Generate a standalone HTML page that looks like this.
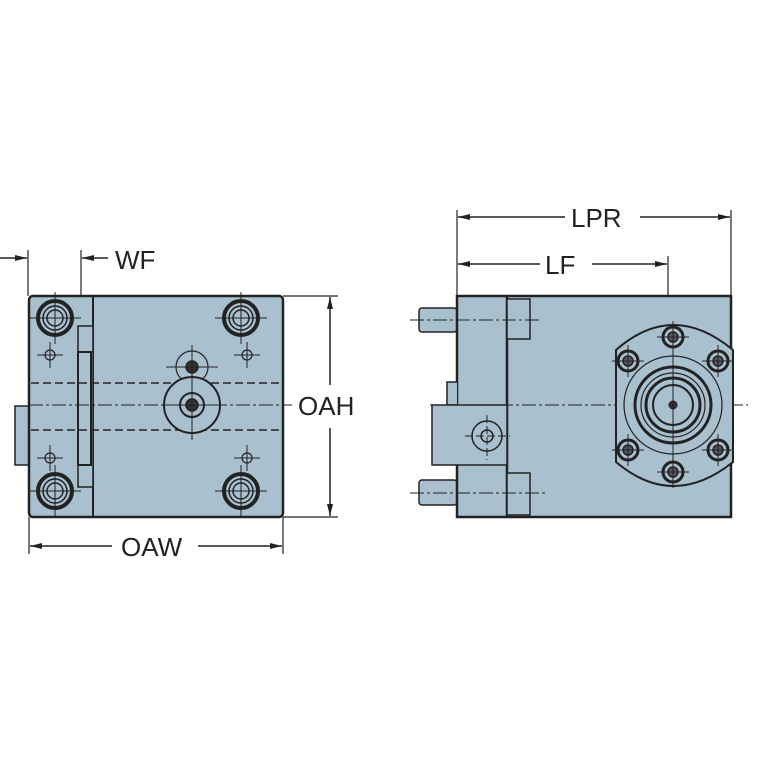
<!DOCTYPE html>
<html><head><style>html,body{margin:0;padding:0;background:#fff}svg{display:block}text{font-family:"Liberation Sans",Arial,sans-serif}</style></head><body>
<svg width="767" height="767" viewBox="0 0 767 767" xmlns="http://www.w3.org/2000/svg">
<defs>
<marker id="a" markerWidth="12" markerHeight="8" refX="12" refY="4" orient="auto" markerUnits="userSpaceOnUse"><path d="M0,1 L12,4 L0,7 Z" fill="#222"/></marker>
<g id="bolt"><circle r="17" fill="#a9c0cf" stroke="#222" stroke-width="4"/><circle r="12" fill="none" stroke="#222" stroke-width="1.5"/><circle r="8" fill="none" stroke="#222" stroke-width="1.5"/><path d="M-26,0H26M0,-26V26" stroke="#222" stroke-width="1"/></g>
<g id="sh"><circle r="5" fill="none" stroke="#222" stroke-width="1.2"/><path d="M-13,0H13M0,-13V13" stroke="#222" stroke-width="1"/></g>
<g id="fb"><circle r="10" fill="#a9c0cf" stroke="#222" stroke-width="3"/><circle r="5" fill="#556" stroke="#222" stroke-width="1.5"/><path d="M-16,0H16M0,-16V16" stroke="#222" stroke-width="1"/></g>
</defs>
<g stroke="#222" fill="none">
<rect x="15" y="406" width="14" height="59" fill="#a9c0cf" stroke-width="1.5"/>
<rect x="29" y="296" width="254" height="221" rx="4" fill="#a9c0cf" stroke-width="2.5"/>
<line x1="93" y1="296" x2="93" y2="517" stroke-width="2"/>
<rect x="78" y="326" width="15" height="161" fill="#a9c0cf" stroke-width="1.5"/>
<rect x="78" y="352" width="13" height="113" fill="#a9c0cf" stroke-width="2"/>
<path d="M31,383H281M31,430H281" stroke-width="1.5" stroke-dasharray="8,4"/>
<path d="M29,405H292" stroke-width="1" stroke-dasharray="14,3,3,3"/>
<use href="#bolt" x="55" y="318"/><use href="#bolt" x="241" y="318"/>
<use href="#bolt" x="55" y="491"/><use href="#bolt" x="241" y="491"/>
<use href="#sh" x="50" y="355"/><use href="#sh" x="247" y="355"/>
<use href="#sh" x="50" y="458"/><use href="#sh" x="247" y="458"/>
<circle cx="192" cy="367" r="16" stroke-width="1.2"/>
<circle cx="192" cy="367" r="6" fill="#333" stroke-width="1.5"/>
<circle cx="192" cy="405" r="28" fill="#a9c0cf" stroke-width="2"/>
<circle cx="192" cy="405" r="12" stroke-width="2"/>
<circle cx="192" cy="405" r="6" fill="#333" stroke-width="1.5"/>
<path d="M166,367H218M192,345V440M163,405H221" stroke-width="1"/>
<path d="M28,250V296M81,250V296" stroke-width="1.2"/>
<line x1="0" y1="258" x2="27" y2="258" stroke-width="1.5" marker-end="url(#a)"/>
<line x1="108" y1="258" x2="82" y2="258" stroke-width="1.5" marker-end="url(#a)"/>
<path d="M283,296H338M283,517H338" stroke-width="1.2"/>
<line x1="330" y1="385" x2="330" y2="297" stroke-width="1.5" marker-end="url(#a)"/>
<line x1="330" y1="428" x2="330" y2="516" stroke-width="1.5" marker-end="url(#a)"/>
<path d="M29,517V554M283,517V554" stroke-width="1.2"/>
<line x1="112" y1="546" x2="30" y2="546" stroke-width="1.5" marker-end="url(#a)"/>
<line x1="198" y1="546" x2="282" y2="546" stroke-width="1.5" marker-end="url(#a)"/>
<rect x="419" y="308" width="38" height="24" rx="3" fill="#a9c0cf" stroke-width="1.5"/>
<rect x="419" y="480" width="38" height="25" rx="3" fill="#a9c0cf" stroke-width="1.5"/>
<rect x="457" y="296" width="274" height="221" fill="#a9c0cf" stroke-width="2.5"/>
<path d="M457,296V382H447V405H457" fill="#a9c0cf" stroke-width="1.5"/>
<line x1="507" y1="296" x2="507" y2="517" stroke-width="2.5"/>
<rect x="507" y="299" width="23" height="40" fill="#a9c0cf" stroke-width="1.5"/>
<rect x="507" y="473" width="23" height="42" fill="#a9c0cf" stroke-width="1.5"/>
<rect x="432" y="405" width="75" height="60" fill="#a9c0cf" stroke-width="1.5"/>
<circle cx="487" cy="436" r="15" stroke-width="1.5"/>
<circle cx="487" cy="436" r="6" stroke-width="1.5"/>
<path d="M465,436H510M487,415V460" stroke-width="1" stroke-dasharray="8,3"/>
<path d="M410,320H540M410,493H545M430,405H748" stroke-width="1" stroke-dasharray="14,3,3,3"/>
<path d="M616,350 Q673,300 733,350 V462 Q673,510 616,462 Z" fill="#a9c0cf" stroke-width="2"/>
<circle cx="673" cy="405" r="49" stroke-width="1.2"/>
<circle cx="673" cy="405" r="38" stroke-width="3"/>
<circle cx="673" cy="405" r="32" stroke-width="1.2"/>
<circle cx="673" cy="405" r="27" stroke-width="3"/>
<circle cx="673" cy="405" r="20" stroke-width="2"/>
<circle cx="673" cy="405" r="4" fill="#333"/>
<path d="M673,322V488" stroke-width="1"/>
<use href="#fb" x="673" y="337"/><use href="#fb" x="673" y="472"/>
<use href="#fb" x="628" y="361"/><use href="#fb" x="718" y="361"/>
<use href="#fb" x="628" y="450"/><use href="#fb" x="718" y="450"/>
<path d="M457,210V296M731,210V296M668,256V296" stroke-width="1.2"/>
<line x1="565" y1="217" x2="458" y2="217" stroke-width="1.5" marker-end="url(#a)"/>
<line x1="640" y1="217" x2="730" y2="217" stroke-width="1.5" marker-end="url(#a)"/>
<line x1="540" y1="264" x2="458" y2="264" stroke-width="1.5" marker-end="url(#a)"/>
<line x1="592" y1="264" x2="667" y2="264" stroke-width="1.5" marker-end="url(#a)"/>
</g>
<g fill="#222" font-size="26">
<text x="115" y="269">WF</text>
<text x="298" y="415">OAH</text>
<text x="121" y="556">OAW</text>
<text x="571" y="227">LPR</text>
<text x="545" y="274">LF</text>
</g>
</svg>
</body></html>
